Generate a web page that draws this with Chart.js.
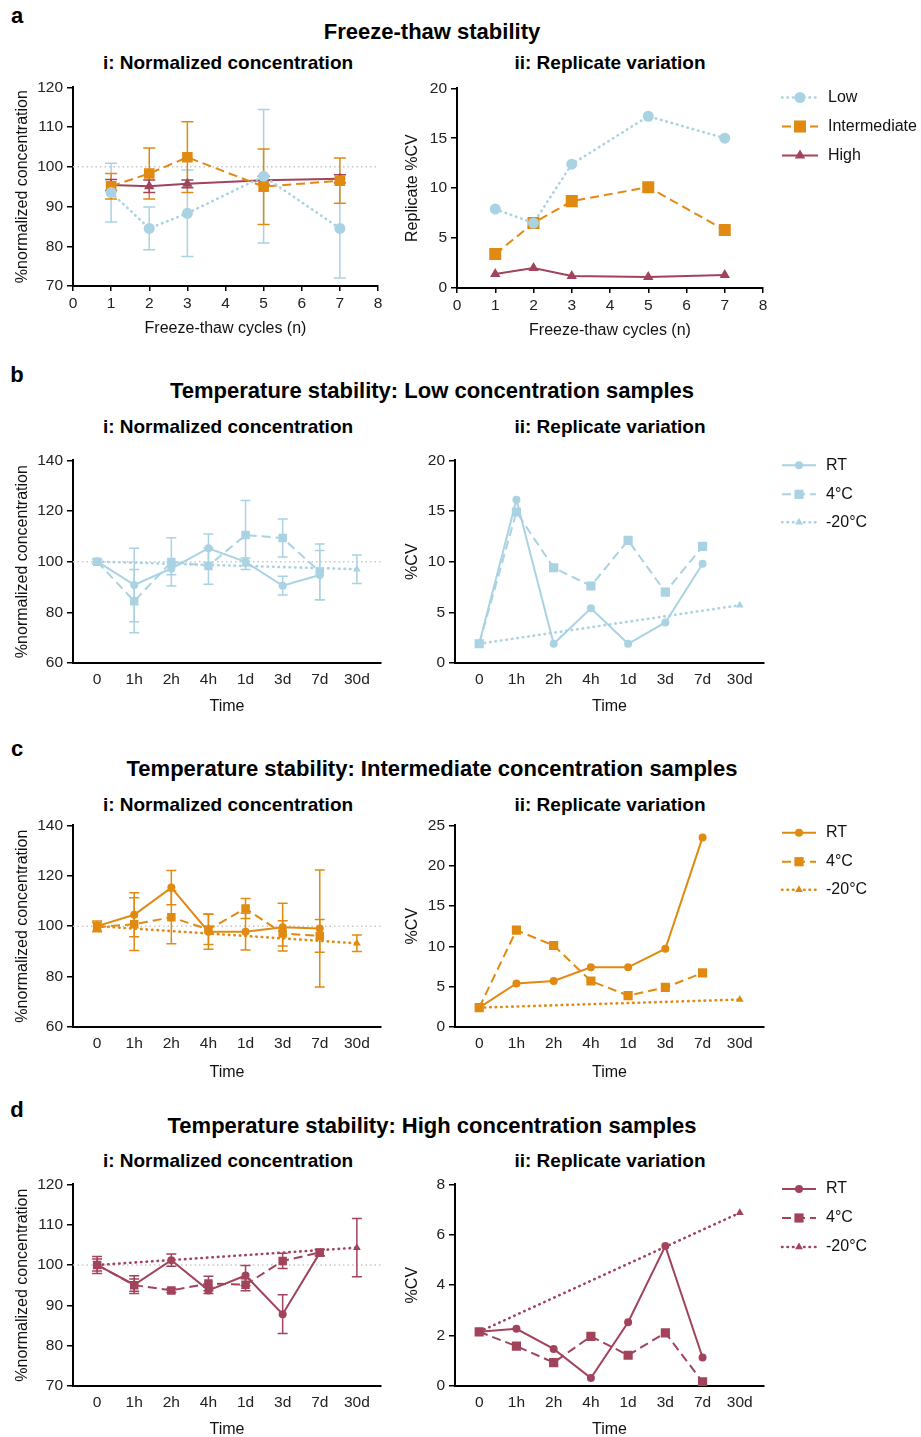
<!DOCTYPE html>
<html>
<head>
<meta charset="utf-8">
<script src="https://cdn.jsdelivr.net/npm/chart.js@4.4.0/dist/chart.umd.min.js"></script>
<style>
  body { margin: 0; background: #fff; font-family: "Liberation Sans", Arial, sans-serif; color: #000; }
  #page { position: relative; width: 921px; height: 1437px; overflow: hidden; }
  .t { position: absolute; transform: translate(-50%, -50%); font-weight: bold; white-space: nowrap; line-height: 1.15; }
  .title { font-size: 22px; }
  .sub { font-size: 19px; }
  .letter { font-size: 22px; }
  canvas { position: absolute; }
</style>
</head>
<body>
<div id="page"></div>
<script>
// ---- data ----
const FT_CYCLES = [1, 2, 3, 5, 7];
const TIME_LABELS = ['0', '1h', '2h', '4h', '1d', '3d', '7d', '30d'];

// a: freeze-thaw
const ftNormLow = [93.5, 84.5, 88.3, 97.6, 84.5];
const ftNormLowErr = [7.4, 5.4, 10.9, 16.8, 12.5];
const ftNormInt = [95.1, 98.3, 102.4, 95.0, 96.5];
const ftNormIntErr = [3.2, 6.4, 8.9, 9.5, 5.7];
const ftNormHigh = [95.4, 95.1, 95.7, 96.6, 97.0];
const ftNormHighErr = [1.4, 1.6, 1.0, 1.0, 1.0];
const ftCvLow = [7.9, 6.5, 12.4, 17.2, 15.0];
const ftCvInt = [3.4, 6.5, 8.7, 10.1, 5.8];
const ftCvHigh = [1.4, 2.0, 1.2, 1.1, 1.3];

// b: low concentration
const lowNormRT = [100.1, 90.8, 97.3, 105.3, 99.9, 90.5, 94.7, null];
const lowNormRTErr = [0.8, 14.5, 2.5, 5.6, 1.5, 3.7, 9.7, null];
const lowNorm4C = [100.0, 84.4, 99.9, 98.3, 110.5, 109.3, 96.0, null];
const lowNorm4CErr = [0.8, 12.5, 9.5, 7.2, 13.6, 7.5, 11.0, null];
const lowNormM20 = [100.0, null, null, null, null, null, null, 97.0];
const lowNormM20Err = [0, null, null, null, null, null, null, 5.6];
const lowCvRT = [1.9, 16.1, 1.9, 5.4, 1.9, 4.0, 9.8, null];
const lowCv4C = [1.9, 14.9, 9.4, 7.6, 12.1, 7.0, 11.5, null];
const lowCvM20 = [1.9, null, null, null, null, null, null, 5.7];

// c: intermediate concentration
const intNormRT = [100.0, 104.5, 115.3, 97.8, 97.8, 99.6, 99.1, null];
const intNormRTErr = [2.0, 8.7, 6.8, 7.0, 7.3, 9.5, 23.2, null];
const intNorm4C = [99.6, 100.8, 103.5, 98.7, 107.0, 97.1, 96.1, null];
const intNorm4CErr = [1.8, 10.5, 10.5, 6.0, 4.0, 5.0, 6.5, null];
const intNormM20 = [100.0, null, null, null, null, null, null, 93.2];
const intNormM20Err = [0, null, null, null, null, null, null, 3.3];
const intCvRT = [2.4, 5.4, 5.7, 7.4, 7.4, 9.7, 23.5, null];
const intCv4C = [2.4, 12.0, 10.1, 5.7, 3.9, 4.9, 6.7, null];
const intCvM20 = [2.4, null, null, null, null, null, null, 3.4];

// d: high concentration
const highNormRT = [100.0, 95.1, 101.2, 93.7, 97.4, 87.8, 103.0, null];
const highNormRTErr = [2.1, 2.2, 1.5, 0.8, 2.5, 4.8, 0.8, null];
const highNorm4C = [100.0, 95.0, 93.7, 95.4, 95.1, 101.0, 103.1, null];
const highNorm4CErr = [1.5, 1.5, 0.5, 1.8, 1.5, 1.9, 0.8, null];
const highNormM20 = [100.0, null, null, null, null, null, null, 104.3];
const highNormM20Err = [0, null, null, null, null, null, null, 7.2];
const highCvRT = [2.15, 2.27, 1.47, 0.32, 2.53, 5.55, 1.13, null];
const highCv4C = [2.15, 1.58, 0.93, 1.97, 1.22, 2.11, 0.16, null];
const highCvM20 = [2.15, null, null, null, null, null, null, 6.87];

// ---- styles ----
const BLUE = '#a9d2e3', ORANGE = '#e08a12', RED = '#a2435c';
const SOLID = [], DASH = [9, 5], DOT = [0.5, 5];
const FONT = '"Liberation Sans", Arial, sans-serif';
Chart.defaults.font.family = FONT;
Chart.defaults.color = '#111';

const page = document.getElementById('page');

function text(cls, str, x, y) {
  const d = document.createElement('div');
  d.className = 't ' + cls;
  d.textContent = str;
  d.style.left = x + 'px';
  d.style.top = y + 'px';
  page.appendChild(d);
}

// dotted reference line at 100%
const refLinePlugin = {
  id: 'refLine',
  beforeDatasetsDraw(chart, args, opts) {
    if (opts.value == null) return;
    const { ctx, chartArea, scales } = chart;
    const y = scales.y.getPixelForValue(opts.value);
    ctx.save();
    ctx.strokeStyle = '#c8c8c8';
    ctx.lineWidth = 1.5;
    ctx.setLineDash([1.5, 3]);
    ctx.beginPath();
    ctx.moveTo(chartArea.left, y);
    ctx.lineTo(chartArea.right, y);
    ctx.stroke();
    ctx.restore();
  }
};

// vertical error bars with caps
const errorBarPlugin = {
  id: 'errorBars',
  beforeDatasetsDraw(chart, args, opts) {
    const { ctx } = chart;
    const yScale = chart.scales.y;
    const cap = opts.cap || 5;
    chart.data.datasets.forEach((ds, di) => {
      if (!ds.errors) return;
      const meta = chart.getDatasetMeta(di);
      ctx.save();
      ctx.strokeStyle = ds.borderColor;
      ctx.lineWidth = 1.5;
      ctx.setLineDash([]);
      ds.data.forEach((pt, i) => {
        const e = ds.errors[i];
        if (pt.y == null || !e) return;
        const x = meta.data[i].x;
        const top = yScale.getPixelForValue(pt.y + e);
        const bot = yScale.getPixelForValue(pt.y - e);
        ctx.beginPath();
        ctx.moveTo(x, top); ctx.lineTo(x, bot);
        ctx.moveTo(x - cap, top); ctx.lineTo(x + cap, top);
        ctx.moveTo(x - cap, bot); ctx.lineTo(x + cap, bot);
        ctx.stroke();
      });
      ctx.restore();
    });
  }
};

// legend with line + marker samples, drawn to the right of the plot
const sideLegendPlugin = {
  id: 'sideLegend',
  afterDraw(chart, args, opts) {
    if (!opts.rows) return;
    const ctx = chart.ctx;
    chart.data.datasets.forEach((ds, i) => {
      const y = opts.rows[i] - opts.top;
      const x0 = opts.x0 - opts.left, x1 = opts.x1 - opts.left;
      ctx.save();
      ctx.strokeStyle = ds.borderColor;
      ctx.lineWidth = ds.borderWidth;
      ctx.lineCap = ds.borderCapStyle || 'butt';
      ctx.setLineDash(ds.borderDash);
      ctx.beginPath();
      ctx.moveTo(x0, y);
      ctx.lineTo(x1, y);
      ctx.stroke();
      ctx.setLineDash([]);
      ctx.fillStyle = ds.backgroundColor;
      Chart.helpers.drawPoint(ctx, { pointStyle: ds.pointStyle, radius: ds.pointRadius, rotation: 0, borderWidth: 0 }, (x0 + x1) / 2, y);
      ctx.fillStyle = '#111';
      ctx.font = '16px ' + FONT;
      ctx.textBaseline = 'middle';
      ctx.fillText(ds.label, opts.textX - opts.left, y);
      ctx.restore();
    });
  }
};

function series(label, xs, ys, errs, color, style, dash, radius, order) {
  return {
    label,
    data: ys.map((v, i) => ({ x: xs[i], y: v })),
    errors: errs,
    borderColor: color,
    backgroundColor: color,
    borderWidth: dash === DOT ? 2.6 : 2,
    borderDash: dash,
    borderCapStyle: dash === DOT ? 'round' : 'butt',
    pointStyle: style,
    pointRadius: radius,
    pointBorderWidth: 0,
    spanGaps: true,
    order: order || 0
  };
}

// plot = [left, right, top, bottom] of the plot area in page pixels
function makeChart(o) {
  const [pl, pr, pt, pb] = o.plot;
  const top = pt - 10;
  const xH = 60;
  const cv = document.createElement('canvas');
  cv.width = o.width;
  cv.height = pb + xH - top;
  cv.style.left = o.left + 'px';
  cv.style.top = top + 'px';
  page.appendChild(cv);

  const isTime = o.xType === 'time';
  const xScale = {
    type: 'linear',
    min: isTime ? -0.65 : 0,
    max: isTime ? 7.65 : 8,
    afterFit: s => { s.height = xH; },
    grid: { drawOnChartArea: false, drawTicks: !isTime, tickLength: 5, color: '#000', lineWidth: 1.5 },
    border: { color: '#000', width: 2 },
    ticks: {
      stepSize: 1,
      padding: isTime ? 7 : 3,
      font: { size: 15.5 },
      color: '#222',
      callback: v => isTime ? TIME_LABELS[v] : v
    },
    title: {
      display: true,
      text: o.xTitle,
      font: { size: 16 },
      color: '#111',
      padding: { top: 0, bottom: xH - o.xTitleOff - 9.6 }
    }
  };
  if (isTime) {
    xScale.afterBuildTicks = s => { s.ticks = TIME_LABELS.map((_, i) => ({ value: i })); };
  }

  return new Chart(cv.getContext('2d'), {
    type: 'line',
    data: { datasets: o.datasets },
    plugins: [refLinePlugin, errorBarPlugin, sideLegendPlugin],
    options: {
      responsive: false,
      animation: false,
      layout: { padding: { top: 10, left: 0, bottom: 0, right: o.left + o.width - pr } },
      plugins: {
        legend: { display: false },
        tooltip: { enabled: false },
        refLine: { value: o.ref },
        errorBars: { cap: o.cap || 5 },
        sideLegend: o.legend ? Object.assign({ left: o.left, top: top }, o.legend) : {}
      },
      scales: {
        x: xScale,
        y: {
          min: o.yMin,
          max: o.yMax,
          afterFit: s => { s.width = pl - o.left; },
          grid: { drawOnChartArea: false, drawTicks: true, tickLength: 6, color: '#000', lineWidth: 1.5 },
          border: { color: '#000', width: 2 },
          ticks: { stepSize: o.yStep, padding: 4, font: { size: 15.5 }, color: '#222' },
          title: {
            display: true,
            text: o.yTitle,
            font: { size: 16 },
            color: '#111',
            padding: { top: o.yTitleX - o.left - 9.6, bottom: 0 }
          }
        }
      }
    }
  });
}

const IDX = TIME_LABELS.map((_, i) => i);
const NORM_TITLE = '%normalized concentration';

// ---- headings ----
text('letter', 'a', 17, 16);
text('title', 'Freeze-thaw stability', 432, 32);
text('sub', 'i: Normalized concentration', 228, 63);
text('sub', 'ii: Replicate variation', 610, 63);

text('letter', 'b', 17, 375);
text('title', 'Temperature stability: Low concentration samples', 432, 391);
text('sub', 'i: Normalized concentration', 228, 427);
text('sub', 'ii: Replicate variation', 610, 427);

text('letter', 'c', 17, 749);
text('title', 'Temperature stability: Intermediate concentration samples', 432, 769);
text('sub', 'i: Normalized concentration', 228, 805);
text('sub', 'ii: Replicate variation', 610, 805);

text('letter', 'd', 17, 1110);
text('title', 'Temperature stability: High concentration samples', 432, 1126);
text('sub', 'i: Normalized concentration', 228, 1161);
text('sub', 'ii: Replicate variation', 610, 1161);

// ---- a: freeze-thaw ----
makeChart({
  left: 0, width: 400, plot: [73, 378, 84.3, 286.7], xType: 'ft',
  yMin: 70, yMax: 120, yStep: 10, yTitle: NORM_TITLE, yTitleX: 23,
  xTitle: 'Freeze-thaw cycles (n)', xTitleOff: 42.5, ref: 100, cap: 6,
  datasets: [
    series('Low', FT_CYCLES, ftNormLow, ftNormLowErr, BLUE, 'circle', DOT, 5.5),
    series('Intermediate', FT_CYCLES, ftNormInt, ftNormIntErr, ORANGE, 'rect', DASH, 7.5),
    series('High', FT_CYCLES, ftNormHigh, ftNormHighErr, RED, 'triangle', SOLID, 6)
  ]
});
makeChart({
  left: 400, width: 521, plot: [457, 763, 84.5, 288.3], xType: 'ft',
  yMin: 0, yMax: 20, yStep: 5, yTitle: 'Replicate %CV', yTitleX: 413,
  xTitle: 'Freeze-thaw cycles (n)', xTitleOff: 42.5,
  legend: { rows: [97, 126, 155], x0: 782, x1: 818, textX: 828 },
  datasets: [
    series('Low', FT_CYCLES, ftCvLow, null, BLUE, 'circle', DOT, 5.5),
    series('Intermediate', FT_CYCLES, ftCvInt, null, ORANGE, 'rect', DASH, 8.5),
    series('High', FT_CYCLES, ftCvHigh, null, RED, 'triangle', SOLID, 6)
  ]
});

// ---- b, c, d: temperature stability ----
const TEMP_PANELS = [
  { plotL: [73, 381, 456.7, 662.7], plotR: [455, 764, 456.7, 662.7], yMin: 60, yMax: 140, yStep: 20, cvMax: 20, cvStep: 5,
    off: 44, rows: [465, 494, 522], color: BLUE,
    norm: [lowNormRT, lowNormRTErr, lowNorm4C, lowNorm4CErr, lowNormM20, lowNormM20Err],
    cv: [lowCvRT, lowCv4C, lowCvM20] },
  { plotL: [73, 381, 822.3, 1027.7], plotR: [455, 764, 822.3, 1027.7], yMin: 60, yMax: 140, yStep: 20, cvMax: 25, cvStep: 5,
    off: 46, rows: [833, 862, 890], color: ORANGE,
    norm: [intNormRT, intNormRTErr, intNorm4C, intNorm4CErr, intNormM20, intNormM20Err],
    cv: [intCvRT, intCv4C, intCvM20] },
  { plotL: [73, 381, 1181, 1386.7], plotR: [455, 764, 1181, 1386.7], yMin: 70, yMax: 120, yStep: 10, cvMax: 8, cvStep: 2,
    off: 43.5, rows: [1189, 1218, 1247], color: RED,
    norm: [highNormRT, highNormRTErr, highNorm4C, highNorm4CErr, highNormM20, highNormM20Err],
    cv: [highCvRT, highCv4C, highCvM20] }
];

TEMP_PANELS.forEach(p => {
  const n = p.norm, c = p.cv;
  makeChart({
    left: 0, width: 400, plot: p.plotL, xType: 'time',
    yMin: p.yMin, yMax: p.yMax, yStep: p.yStep, yTitle: NORM_TITLE, yTitleX: 23,
    xTitle: 'Time', xTitleOff: p.off, ref: 100, cap: 5,
    datasets: [
      series('RT', IDX, n[0], n[1], p.color, 'circle', SOLID, 4, 2),
      series('4°C', IDX, n[2], n[3], p.color, 'rect', DASH, 6, 0),
      series('-20°C', IDX, n[4], n[5], p.color, 'triangle', DOT, 4.5, 1)
    ]
  });
  makeChart({
    left: 400, width: 521, plot: p.plotR, xType: 'time',
    yMin: 0, yMax: p.cvMax, yStep: p.cvStep, yTitle: '%CV', yTitleX: 413,
    xTitle: 'Time', xTitleOff: p.off,
    legend: { rows: p.rows, x0: 782, x1: 816, textX: 826 },
    datasets: [
      series('RT', IDX, c[0], null, p.color, 'circle', SOLID, 4, 2),
      series('4°C', IDX, c[1], null, p.color, 'rect', DASH, 6.5, 0),
      series('-20°C', IDX, c[2], null, p.color, 'triangle', DOT, 4.5, 1)
    ]
  });
});
</script>
</body>
</html>
